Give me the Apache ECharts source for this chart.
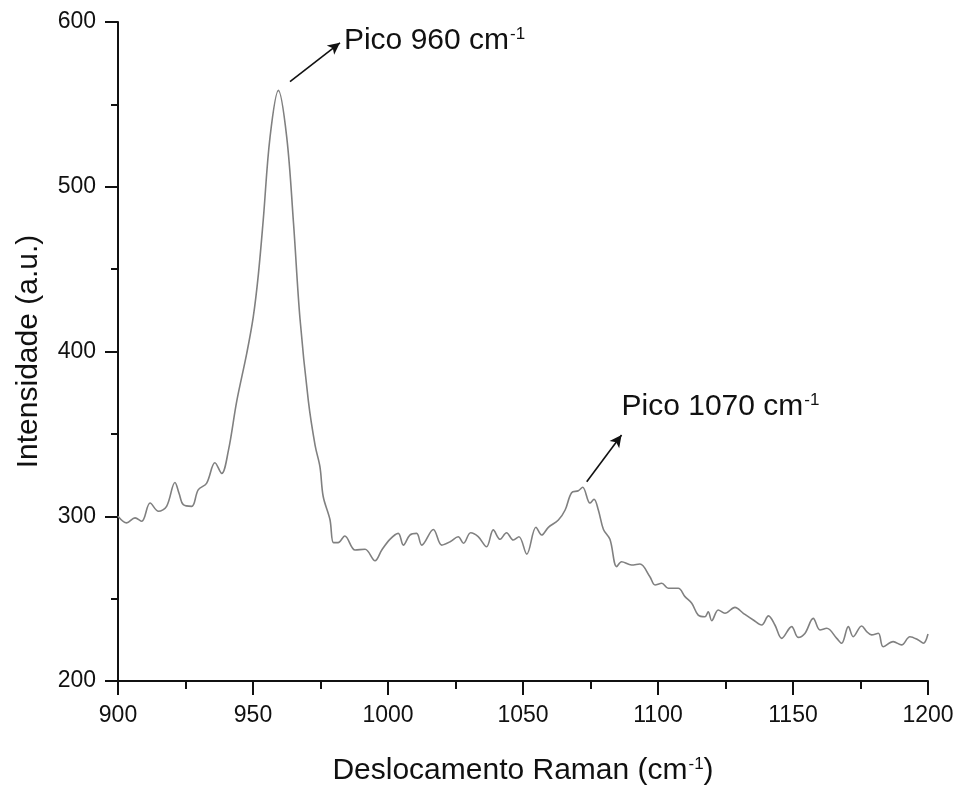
<!DOCTYPE html>
<html>
<head>
<meta charset="utf-8">
<script src="https://cdn.jsdelivr.net/npm/echarts@6/dist/echarts.min.js"></script>
<style>
html,body{margin:0;padding:0;background:#fff;}
#chart{width:958px;height:792px;}
</style>
</head>
<body>
<div id="chart"></div>
<script>
// Raman shift (cm^-1)
const shift = [
  900, 903.2, 906.3, 908.8, 911.9, 915, 918, 921.1, 922.6, 924.2, 927.3, 929.7, 932.8, 935.9, 938.4, 940.9,
  944, 947.7, 950.1, 952, 953.8, 956.3, 959.4, 962.5, 965, 967.4, 970.5, 973, 974.8, 976, 978.5, 979.8,
  981.5, 984, 987.8, 991.5, 995.2, 997.7, 1000.7, 1003.8, 1005.7, 1008.1, 1010.6, 1012.5, 1016.8, 1019.9,
  1023, 1026, 1028, 1030.6, 1033.4, 1036.5, 1039, 1041.5, 1043.9, 1046.4, 1048.5, 1051.4, 1054.8, 1056.9,
  1059.4, 1063.1, 1065.6, 1068, 1070.5, 1072.1, 1074.8, 1076.3, 1077.9, 1079.8, 1082.2, 1084.7, 1086.5,
  1090.2, 1093.3, 1097, 1098.9, 1101.4, 1103.8, 1107.5, 1110, 1112.5, 1114.9, 1117.4, 1118.6, 1119.9,
  1122.3, 1124.8, 1128.5, 1131.6, 1135.3, 1138.4, 1140.9, 1143.3, 1145.8, 1149.5, 1151.9, 1154.4, 1157.5,
  1160, 1162.5, 1166.2, 1168, 1170.5, 1172.3, 1175.4, 1177.3, 1179.1, 1181.6, 1183.4, 1187.1, 1190.2,
  1193.3, 1196.4, 1198.3, 1200
];
// Intensity (a.u.)
const intensity = [
  300, 296, 299, 297, 308, 303, 306, 320.5, 314, 307, 306, 316, 320, 332.5, 326, 340,
  370, 399, 421, 447, 480, 530, 558.5, 530, 478, 420, 370, 343, 330, 312, 298, 284,
  284, 288, 279.5, 280, 273, 279.5, 286, 289.6, 282.5, 288.6, 289.6, 282.5, 292, 282.5,
  284.5, 287.6, 283.6, 290, 287.6, 281.5, 291.7, 286, 290, 285.6, 287.6, 277, 293.3, 288.6,
  293.3, 297.7, 303.8, 314.3, 315.5, 317.6, 308, 310.3, 303.8, 292, 286, 269.4, 272.4,
  270.4, 271, 263.3, 258.3, 259.3, 256.3, 256.3, 251.2, 247.2, 240, 239, 242, 236.6,
  243.1, 241.1, 244.7, 241.1, 237, 234, 239.5, 234, 225.9, 233, 226.5, 228.9, 238,
  231, 232, 225.9, 222.9, 233, 226.9, 233.4, 230, 228, 229, 220.8, 223.9, 221.9,
  226.9, 224.9, 222.9, 228.5
];
const xTicks = [900, 950, 1000, 1050, 1100, 1150, 1200];
const yTicks = [200, 300, 400, 500, 600];
// annotation: label, arrow tail [x,y], arrow head [x,y], text anchor [x,y]
const peakLabels = ['Pico 960 cm', 'Pico 1070 cm'];
const arrowTail = [[963.7, 563.8], [1073.6, 321]];
const arrowHead = [[982.2, 587.4], [1086.5, 349.3]];
const textAnchor = [[983.5, 588.5], [1086.3, 366.5]];

const FONT = "'Liberation Sans', Arial, sans-serif";
const data = shift.map((x, i) => [x, intensity[i]]);
const supRich = {
  a: {fontSize: 30, fontFamily: FONT, color: '#111'},
  s: {fontSize: 17, fontFamily: FONT, color: '#111', verticalAlign: 'top', padding: [0, 0, 0, 1]}
};

const chart = echarts.init(document.getElementById('chart'), null, {renderer: 'canvas'});
chart.setOption({
  animation: false,
  backgroundColor: '#fff',
  grid: {left: 118, right: 30, top: 22, bottom: 111, containLabel: false},
  xAxis: {
    type: 'value', min: xTicks[0], max: xTicks[xTicks.length - 1], interval: 50,
    name: '{a|Deslocamento Raman (cm}{s|-1}{a|)}',
    nameLocation: 'middle', nameGap: 75,
    nameTextStyle: {rich: supRich},
    axisLine: {show: true, onZero: false, lineStyle: {color: '#111', width: 2}},
    axisTick: {show: true, inside: false, length: 14, lineStyle: {color: '#111', width: 2}},
    minorTick: {show: true, splitNumber: 2, length: 8, lineStyle: {color: '#111', width: 2}},
    splitLine: {show: false},
    axisLabel: {fontSize: 23, fontFamily: FONT, color: '#111', margin: 23,
      formatter: v => xTicks.includes(v) ? String(v) : ''}
  },
  yAxis: {
    type: 'value', min: yTicks[0], max: yTicks[yTicks.length - 1], interval: 100,
    name: 'Intensidade (a.u.)',
    nameLocation: 'middle', nameGap: 74,
    nameTextStyle: {fontSize: 30, fontFamily: FONT, color: '#111'},
    axisLine: {show: true, onZero: false, lineStyle: {color: '#111', width: 2}},
    axisTick: {show: true, inside: false, length: 13, lineStyle: {color: '#111', width: 2}},
    minorTick: {show: true, splitNumber: 2, length: 7, lineStyle: {color: '#111', width: 2}},
    splitLine: {show: false},
    axisLabel: {fontSize: 23, fontFamily: FONT, color: '#111', margin: 22,
      formatter: v => yTicks.includes(v) ? String(v) : ''}
  },
  series: [{
    type: 'line',
    data: data,
    showSymbol: false,
    smooth: 0.35,
    lineStyle: {color: '#808080', width: 1.6},
    silent: true,
    markLine: {
      silent: true,
      symbol: ['none', 'arrow'],
      symbolSize: [9, 12],
      label: {show: false},
      lineStyle: {color: '#111', width: 1.6, type: 'solid'},
      emphasis: {disabled: true},
      data: arrowTail.map((t, i) => [{coord: t}, {coord: arrowHead[i]}])
    },
    markPoint: {
      silent: true,
      symbol: 'circle',
      symbolSize: 1,
      itemStyle: {color: 'rgba(0,0,0,0)'},
      label: {
        show: true, position: 'right', distance: 0,
        rich: supRich
      },
      data: peakLabels.map((t, i) => ({
        coord: textAnchor[i],
        label: {formatter: '{a|' + t + '}{s|-1}'}
      }))
    }
  }]
});
</script>
</body>
</html>
